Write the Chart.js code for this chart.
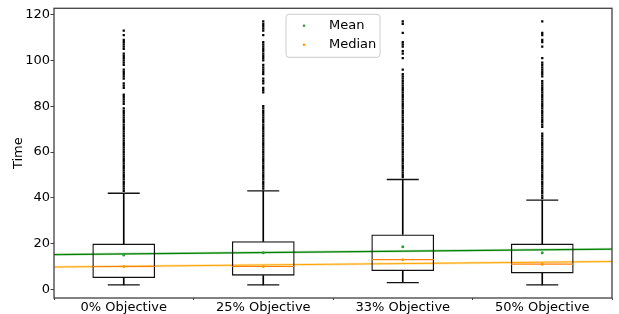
<!DOCTYPE html>
<html>
<head>
<meta charset="utf-8">
<script src="https://cdn.jsdelivr.net/npm/chart.js@4.4.1/dist/chart.umd.min.js"></script>
<style>
html,body{margin:0;padding:0;background:#fff;}
#wrap{width:619px;height:314px;position:relative;}
</style>
</head>
<body>
<div id="wrap"><canvas id="c"></canvas></div>
<script>
// ---- data ----
const categories = ['0% Objective', '25% Objective', '33% Objective', '50% Objective'];
const q1 = [5, 6, 8, 7];
const q3 = [20, 21, 24, 20];
const whiskerLow = [2, 2, 3, 2];
const whiskerHigh = [42, 43, 48, 39];
const medians = [10, 10, 13, 11];
const means = [15, 16, 18.6, 16];
const outliers0 = [43,44,45,46,47,48,49,50,51,52,53,54,55,56,57,58,59,60,61,62,63,64,65,66,67,68,69,70,71,72,73,74,75,76,77,78,79,
  81,82,83,84,85,88,89,90,92,93,94,95,96,98,99,100,101,102,103,105,106,107,108,109,111,113];
const outliers1 = [44,45,46,47,48,49,50,51,52,53,54,55,56,57,58,59,60,61,62,63,64,65,66,67,68,69,70,71,72,73,74,75,76,77,78,79,80,
  86,87,88,90,91,92,94,95,96,97,98,100,101,102,103,104,105,106,107,108,111,113,114,115,116,117];
const outliers2 = [49,50,51,52,53,54,55,56,57,58,59,60,61,62,63,64,65,66,67,68,69,70,71,72,73,74,75,76,77,78,79,80,81,82,83,84,85,86,87,88,89,90,91,92,93,94,
  96,101,103,104,106,107,108,112,116,117];
const outliers3 = [40,41,42,43,44,45,46,47,48,49,50,51,52,53,54,55,56,57,58,59,60,61,62,63,64,65,66,67,68,
  71,72,73,74,75,76,77,78,79,80,81,82,83,84,85,86,87,88,89,90,91,93,94,95,96,97,98,99,101,106,108,109,111,112,117];
const fitX = [0.5, 4.5];
const meanFit = [15.2, 17.6];
const medianFit = [9.8, 12.2];
const yTicks = [0, 20, 40, 60, 80, 100, 120];

const outlierLists = [outliers0, outliers1, outliers2, outliers3];
const FONT = 'DejaVu Sans';

const outlierPoints = [];
outlierLists.forEach((arr, i) => arr.forEach(v => outlierPoints.push({x: i + 1, y: v})));
const pts = arr => arr.map((v, i) => ({x: i + 1, y: v}));
const line = (xs, ys) => xs.map((x, i) => ({x: x, y: ys[i]}));

const framePlugin = {
  id: 'frame',
  afterDatasetsDraw(chart) {
    const a = chart.chartArea, ctx = chart.ctx;
    ctx.save();
    ctx.strokeStyle = '#404040';
    ctx.lineWidth = 1.3;
    ctx.strokeRect(a.left, a.top, a.right - a.left, a.bottom - a.top);
    ctx.restore();
  },
  afterDraw(chart) {
    const a = chart.chartArea, ctx = chart.ctx;
    const w = 94, h = 43;
    const cx = (a.left + a.right) / 2;
    const x0 = cx - w / 2, y0 = a.top + 6;
    ctx.save();
    ctx.beginPath();
    ctx.roundRect(x0, y0, w, h, 3);
    ctx.fillStyle = 'rgba(255,255,255,0.85)';
    ctx.fill();
    ctx.strokeStyle = '#cccccc';
    ctx.lineWidth = 1;
    ctx.stroke();
    const items = [['Mean', '#2ca02c'], ['Median', '#ff9900']];
    ctx.font = '13px "' + FONT + '"';
    ctx.textBaseline = 'middle';
    items.forEach((it, k) => {
      const yy = y0 + 11.5 + k * 19;
      ctx.fillStyle = it[1];
      ctx.beginPath();
      ctx.arc(x0 + 18, yy, 1.3, 0, Math.PI * 2);
      ctx.fill();
      ctx.fillStyle = '#000';
      ctx.fillText(it[0], x0 + 43, yy);
    });
    ctx.restore();
  }
};

new Chart(document.getElementById('c'), {
  data: {
    labels: categories,
    datasets: [
      {type: 'line', label: 'meanFitBand', data: line(fitX, meanFit), xAxisID: 'x2', borderColor: 'rgba(44,160,44,0.3)', borderWidth: 2.5, pointRadius: 0, order: 5},
      {type: 'line', label: 'medianFitBand', data: line(fitX, medianFit), xAxisID: 'x2', borderColor: 'rgba(255,165,0,0.3)', borderWidth: 2.5, pointRadius: 0, order: 5},
      {type: 'line', label: 'meanFit', data: line(fitX, meanFit), xAxisID: 'x2', borderColor: '#008000', borderWidth: 1.1, pointRadius: 0, order: 4},
      {type: 'line', label: 'medianFit', data: line(fitX, medianFit), xAxisID: 'x2', borderColor: '#ffa500', borderWidth: 1.1, pointRadius: 0, order: 4},
      {type: 'bar', label: 'lowerWhisker', data: q1.map((v, i) => [whiskerLow[i], v]), xAxisID: 'x', backgroundColor: '#000', barThickness: 1, grouped: false, order: 3},
      {type: 'bar', label: 'upperWhisker', data: q3.map((v, i) => [v, whiskerHigh[i]]), xAxisID: 'x', backgroundColor: '#000', barThickness: 1, grouped: false, order: 3},
      {type: 'bar', label: 'box', data: q1.map((v, i) => [v, q3[i]]), xAxisID: 'x', backgroundColor: 'rgba(0,0,0,0)', borderColor: '#111', borderWidth: 1.3, borderSkipped: false, barPercentage: 0.45, categoryPercentage: 1, grouped: false, order: 3},
      {type: 'scatter', label: 'capsLow', data: pts(whiskerLow), xAxisID: 'x2', pointStyle: 'line', pointRadius: 16, borderColor: '#111', borderWidth: 1.3, order: 2},
      {type: 'scatter', label: 'capsHigh', data: pts(whiskerHigh), xAxisID: 'x2', pointStyle: 'line', pointRadius: 16, borderColor: '#111', borderWidth: 1.3, order: 2},
      {type: 'scatter', label: 'medianLine', data: pts(medians), xAxisID: 'x2', pointStyle: 'line', pointRadius: 31, borderColor: '#ff7f0e', borderWidth: 1.2, order: 1},
      {type: 'scatter', label: 'outliers', data: outlierPoints, xAxisID: 'x2', pointStyle: 'rect', pointRadius: 1.6, backgroundColor: '#000', borderWidth: 0, order: 1},
      {type: 'scatter', label: 'Mean', data: pts(means), xAxisID: 'x2', pointRadius: 1.5, backgroundColor: '#2ca02c', borderWidth: 0, order: 0},
      {type: 'scatter', label: 'Median', data: pts(medians), xAxisID: 'x2', pointRadius: 1.5, backgroundColor: '#ff9900', borderWidth: 0, order: 0}
    ]
  },
  options: {
    responsive: true,
    maintainAspectRatio: false,
    animation: false,
    layout: {autoPadding: false, padding: {top: 7, right: 7, left: 0, bottom: 0}},
    plugins: {legend: {display: false}, tooltip: {enabled: false}},
    scales: {
      x: {
        type: 'category',
        offset: true,
        grid: {display: true, drawOnChartArea: false, drawTicks: true, tickLength: 2, color: '#404040'},
        border: {display: false},
        ticks: {font: {family: FONT, size: 13}, color: '#000', padding: 0, maxRotation: 0},
        afterFit(s) { s.height = 16; }
      },
      x2: {
        type: 'linear', display: false, min: 0.5, max: 4.5
      },
      y: {
        type: 'linear',
        min: -3.75, max: 122.75,
        afterBuildTicks(s) { s.ticks = yTicks.map(v => ({value: v})); },
        grid: {display: true, drawOnChartArea: false, drawTicks: true, tickLength: 3.5, color: '#404040'},
        border: {display: false},
        ticks: {font: {family: FONT, size: 13}, color: '#000', padding: 0.5},
        title: {display: true, text: 'Time', font: {family: FONT, size: 13}, color: '#000', padding: {top: 11, bottom: 0}},
        afterFit(s) { s.width = 54; }
      }
    }
  },
  plugins: [framePlugin]
});
</script>
</body>
</html>
